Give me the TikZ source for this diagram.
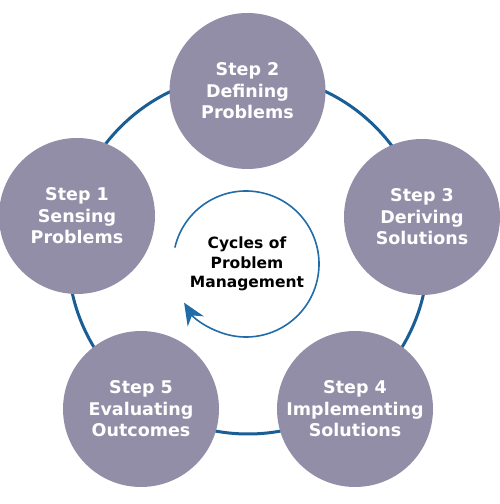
\documentclass[tikz,border=0pt]{standalone}
\usepackage{fontspec}
\setmainfont{DejaVu Sans}
\usetikzlibrary{arrows.meta}
\definecolor{stepfill}{HTML}{938EA8}
\definecolor{ringblue}{HTML}{1A5E96}
\definecolor{arrowblue}{HTML}{1F6CA8}
\begin{document}
\begin{tikzpicture}[x=1pt,y=1pt,
  stepcircle/.style={circle,fill=stepfill,minimum size=156pt,inner sep=0pt,
    text=white,font=\fontsize{17.5}{21.5}\selectfont\bfseries,align=center},
  centertext/.style={font=\fontsize{15.5}{19.5}\selectfont\bfseries,align=center,text=black}]
\useasboundingbox (0,0) rectangle (500,504);
\coordinate (ringc) at (248,250);
\draw[ringblue,line width=3pt] (ringc) circle[radius=180];
\node[stepcircle] (s2) at (247.5,413) {Step 2\\Defining\\Problems};
\node[stepcircle] (s1) at (77,288) {Step 1\\Sensing\\Problems};
\node[stepcircle] (s3) at (422,287) {Step 3\\Deriving\\Solutions};
\node[stepcircle] (s5) at (141,95) {Step 5\\Evaluating\\Outcomes};
\node[stepcircle] (s4) at (355,95) {Step 4\\Implementing\\Solutions};
\coordinate (innc) at (246,240);
\draw[arrowblue,line width=1.6pt,-{Stealth[length=22pt,width=19pt,inset=7pt]}]
  ([shift={(167:73)}]innc) arc[start angle=167,end angle=-148,radius=73];
\node[centertext] (ct) at (247,240) {Cycles of\\Problem\\Management};
\end{tikzpicture}
\end{document}
